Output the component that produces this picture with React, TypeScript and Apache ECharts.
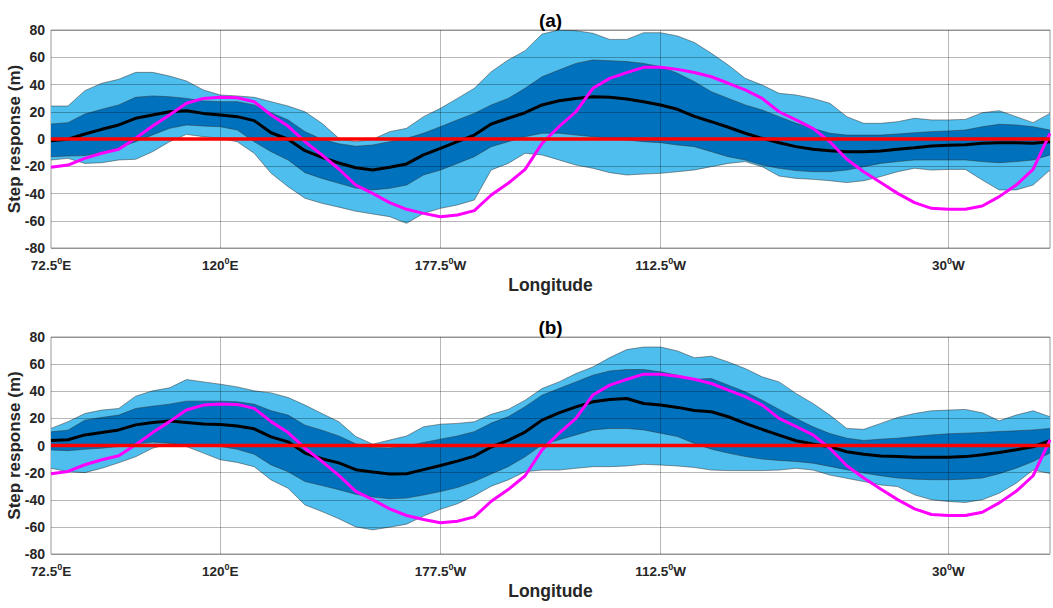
import React, { useEffect, useRef } from 'react';
import * as echarts from 'echarts';

// ---- axis definitions ----
const pointCount = 60;
const categories = Array.from({ length: pointCount }, (_, i) => String(i));
const tickIndices = [0, 10, 23, 36, 53];
const tickDegrees = ['72.5', '120', '177.5', '112.5', '30'];
const tickHemispheres = ['E', 'E', 'W', 'W', 'W'];
const yTicks = { min: -80, max: 80, interval: 20 };
const referenceLevel = 0;

// ---- panel (a) ----
const outerUpperA = [24.2, 24.2, 35.5, 40.9, 43.8, 48.9, 48.9, 46.2, 42.6, 36, 32.3, 31.6, 30.6, 27.4, 24.2, 20, 11.5, 0.5, -2, -0.2, 5.4, 7.8, 16.4, 22.5, 29.8, 37.2, 49.4, 58, 64.8, 77, 80, 79.5, 77.6, 73.1, 73.1, 78, 78, 75.6, 70.8, 62.9, 54.3, 44.5, 39.6, 33.5, 32.3, 29.8, 26.2, 16.4, 11.5, 11.5, 12.7, 15.2, 14, 14, 14.4, 19.3, 20.8, 16.4, 12, 18.8];
const outerLowerA = [-15.4, -14.2, -17.9, -17.4, -15.4, -14.9, -9.3, -2, 3.4, 1.7, 0.5, -2, -10.5, -25.2, -35, -43.5, -47.2, -50, -53, -55, -57, -61.9, -54.6, -50.9, -48.4, -44.8, -22.7, -17.9, -10.5, -11.7, -15.4, -19.1, -21.5, -24.7, -26.4, -25.7, -25.2, -24, -22.7, -20.3, -17.9, -16.6, -20.3, -27.2, -28.9, -29.6, -30.6, -32, -30.6, -27.6, -24, -21.5, -22.8, -22.3, -22.3, -30.1, -37.4, -37.4, -33.8, -22.8];
const innerUpperA = [11, 12, 18.3, 21.8, 25, 30.6, 31.6, 31, 29.8, 27.9, 27.4, 27.4, 25, 19.3, 14, 5.4, -0.2, -3.5, -5.3, -4.4, -2, 0.5, 4.2, 9, 14, 18.8, 25, 29.8, 37.2, 45.7, 50.6, 55.5, 58, 57.5, 56.8, 55.5, 53.1, 48.2, 42.1, 34.7, 29.8, 25, 21.3, 16.4, 11.5, 7.8, 4.2, 2.9, 2.9, 2.9, 3.7, 4.6, 5.4, 5.9, 6.6, 9, 10.8, 10.3, 9, 6.6];
const innerLowerA = [-13, -12.5, -12.2, -10, -6.4, -2, 3, 7.8, 10.3, 9.5, 9, 6.6, -2, -9.3, -15.4, -24.7, -28.9, -32.5, -36, -37.4, -36.2, -33.8, -26.4, -22.8, -17.9, -13, -5.6, -2, 1.7, 4.2, 4.2, 2.9, 1.7, 0.5, -0.7, -2, -2.7, -4.4, -5.6, -9.3, -13, -15.4, -19.1, -21.5, -23.2, -24, -24, -22.8, -20.3, -17.9, -16.6, -15.4, -15.4, -15.4, -15.4, -16.6, -17.4, -16.6, -15.4, -11.7];
const meanA = [-1.2, -0.2, 3.7, 7.1, 10.3, 15.2, 17.6, 20, 20.8, 18.8, 17.6, 16.4, 13.5, 4.6, -0.2, -8.6, -13.5, -17.6, -21.1, -22.8, -20.8, -18.3, -11.7, -6.9, -2, 2.9, 11, 15.2, 19.3, 25, 28.1, 29.8, 31, 30.6, 29.4, 27.4, 25, 21.8, 16.6, 12.7, 8.6, 4.2, 0.5, -2.7, -5.6, -7.6, -8.6, -9.3, -9.3, -8.8, -7.6, -6.4, -5.1, -4.6, -4.2, -3.2, -2.7, -2.7, -3.2, -2];

// ---- observed (magenta), same in both panels ----
const observed = [-20.8, -19.1, -14.2, -10.5, -7.6, 0.5, 9.5, 17.6, 26.2, 29.8, 30.6, 30.3, 27.4, 17.6, 9.5, -2, -11.7, -22, -33.8, -39.9, -46.7, -51.6, -54.6, -57, -55.8, -52.6, -41.1, -32.5, -22.3, -3.2, 9, 20, 37.2, 44.5, 48.7, 52.6, 52.6, 51.1, 48.8, 45.7, 40.9, 36, 29.8, 20, 14, 7.8, -2, -14.9, -24, -32, -39.9, -46.7, -50.9, -51.6, -51.6, -49.2, -42.3, -33.8, -22.3, 4.2];

// ---- panel (b) ----
const outerUpperB = [12.6, 17.5, 23.6, 26.1, 27.3, 36.4, 40.3, 42.5, 48.6, 46.9, 45.2, 43.2, 40.3, 38.8, 35.4, 29.8, 23.6, 17.5, 6.6, 1, 4, 7, 13.8, 15.7, 16.3, 17.5, 23, 26.6, 33.4, 42, 46.9, 53, 57.9, 64.8, 70.7, 72.6, 72.6, 69.7, 64.7, 65.8, 61.6, 56.7, 50.6, 46.9, 38.4, 31, 22.4, 12.6, 11.9, 16.3, 20.7, 23.6, 25.6, 26.1, 26.6, 24.1, 18.2, 22.4, 25.6, 21.2];
const outerLowerB = [-16.8, -19.3, -20, -16.8, -12.7, -8.3, -2, 1.2, -0.8, -5.6, -10.5, -12.5, -15.6, -25.4, -31.5, -43.8, -48.7, -54, -60, -62.2, -60.2, -58, -52, -47, -43, -37, -30, -25.4, -19.3, -18.1, -18.1, -16.8, -15.6, -15.6, -15.1, -13.9, -14.4, -15.1, -16.2, -18.1, -18.5, -18.5, -18.5, -18.1, -16.8, -18.1, -21.8, -24.2, -26.6, -29.1, -30.3, -36.4, -40, -41.3, -42, -40, -35.2, -27.8, -18.1, -20.6];
const innerUpperB = [10.1, 11.3, 18.7, 20.7, 22.4, 27.3, 29, 30.5, 32.7, 32.7, 32.7, 32.2, 30.5, 25.6, 22.4, 15, 11.3, 7, 1.2, -1.5, -1.8, -0.3, 2.2, 4.7, 7, 10.2, 16.5, 21.2, 28.6, 37.1, 42, 46.9, 51.8, 55, 56, 56, 54.3, 51.8, 48.8, 49.4, 44.5, 39.6, 33.4, 26.6, 20, 13.8, 8.8, 5.4, 3.7, 4.7, 5.4, 6.6, 7.8, 8.6, 9.1, 9.6, 10.3, 10.8, 11.5, 12.6];
const innerLowerB = [-3.3, -3.8, -2.8, -2, -0.7, 1.2, 2.5, 1.7, -0.2, -0.7, -0.7, -2.8, -6.4, -14.3, -19.3, -26.6, -29.5, -32.6, -36, -38, -39.2, -38.8, -36.5, -34, -31, -26.6, -21, -15.6, -8.3, 0.5, 4.2, 7.8, 11.5, 12.6, 12.6, 11.5, 9.1, 6.6, 1.5, -2.7, -5.6, -8.1, -10, -11, -11.8, -13, -15.4, -17.9, -20.3, -22.3, -24, -24.8, -25.2, -25.2, -24.8, -24, -20.8, -16.7, -11.8, -5.6];
const meanB = [3.7, 4.2, 7.8, 9.6, 11.5, 15.2, 16.9, 18, 17, 15.8, 15.5, 14.3, 12.3, 6.4, 2.7, -5.6, -9.8, -12.8, -17.8, -19.6, -21, -20.8, -17.8, -14.8, -11.5, -7.8, -1.1, 3.8, 9.9, 18.7, 24.1, 28.5, 32.2, 33.9, 34.7, 31, 29.8, 28.1, 25.8, 24.9, 21.2, 16.3, 11.9, 7.7, 3.5, 1.1, -0.9, -4.6, -6.5, -7.8, -8.2, -8.7, -8.7, -8.7, -8.2, -6.9, -5.1, -3.2, -0.9, 3.5];

const panelTitles = ['(a)', '(b)'];

const FONT = '"Liberation Sans", Arial, Helvetica, sans-serif';
const LIGHT = '#4DBEEE';
const DARK = '#0072BD';
const EDGE = '#333333';
const GRIDLINE = 'rgba(0,0,0,0.28)';
const TEXT = '#262626';

const grids = [
  { left: 51, top: 30, width: 999, height: 218 },
  { left: 51, top: 337, width: 999, height: 217 },
];

function buildSeries(p: number, oU: number[], oL: number[], iU: number[], iL: number[], mean: number[]) {
  const common = { type: 'line', xAxisIndex: p, yAxisIndex: p, symbol: 'none', silent: true, animation: false };
  const edge = { color: EDGE, width: 0.5 };
  return [
    { ...common, name: `outerLow${p}`, stack: `outer${p}`, stackStrategy: 'all', data: oL, lineStyle: edge, z: 1 },
    { ...common, name: `outerBand${p}`, stack: `outer${p}`, stackStrategy: 'all', data: oU.map((v, i) => v - oL[i]), lineStyle: edge, areaStyle: { color: LIGHT, opacity: 1 }, z: 1 },
    { ...common, name: `innerLow${p}`, stack: `inner${p}`, stackStrategy: 'all', data: iL, lineStyle: edge, z: 1 },
    { ...common, name: `innerBand${p}`, stack: `inner${p}`, stackStrategy: 'all', data: iU.map((v, i) => v - iL[i]), lineStyle: edge, areaStyle: { color: DARK, opacity: 1 }, z: 1 },
    { ...common, name: `mean${p}`, data: mean, lineStyle: { color: '#000000', width: 3 }, z: 3 },
    { ...common, name: `observed${p}`, data: observed, lineStyle: { color: '#FF00FF', width: 3 }, z: 3 },
    { ...common, name: `zero${p}`, data: [[0, referenceLevel], [pointCount - 1, referenceLevel]], lineStyle: { color: '#FF0000', width: 3.5 }, z: 3 },
  ];
}

export default function App() {
  const ref = useRef<HTMLDivElement>(null);
  useEffect(() => {
    if (!ref.current) return;
    const chart = echarts.init(ref.current, undefined, { renderer: 'svg' });
    const isTick = (i: number) => tickIndices.indexOf(i) >= 0;
    const xAxes = grids.map((_, p) => ({
      type: 'category',
      gridIndex: p,
      data: categories,
      boundaryGap: false,
      z: 2,
      axisLine: { show: false },
      axisTick: { show: false },
      axisLabel: {
        interval: (i: number) => isTick(i),
        margin: 8,
        formatter: (_v: string, i: number) => {
          const k = tickIndices.indexOf(i);
          if (k < 0) return '';
          return `{b|${tickDegrees[k]}}{s|0}{b|${tickHemispheres[k]}}`;
        },
        rich: {
          b: { fontSize: 13.5, fontWeight: 'bold', color: TEXT, fontFamily: FONT, verticalAlign: 'bottom', lineHeight: 16 },
          s: { fontSize: 9, fontWeight: 'bold', color: TEXT, fontFamily: FONT, verticalAlign: 'top', lineHeight: 16 },
        },
      },
      splitLine: { show: true, interval: (i: number) => isTick(i) && i > 0, lineStyle: { color: GRIDLINE, width: 1 } },
      name: 'Longitude',
      nameLocation: 'middle',
      nameGap: 28,
      nameMoveOverlap: false,
      nameTextStyle: { fontSize: 17.5, fontWeight: 'bold', color: TEXT, fontFamily: FONT },
    }));
    const yAxes = grids.map((_, p) => ({
      type: 'value',
      gridIndex: p,
      min: yTicks.min,
      max: yTicks.max,
      interval: yTicks.interval,
      z: 2,
      axisLine: { show: false },
      axisTick: { show: false },
      axisLabel: { fontSize: 14, fontWeight: 'bold', color: TEXT, fontFamily: FONT, margin: 6 },
      splitLine: { show: true, lineStyle: { color: GRIDLINE, width: 1 } },
      name: 'Step response (m)',
      nameLocation: 'middle',
      nameGap: 28,
      nameMoveOverlap: false,
      nameRotate: 90,
      nameTextStyle: { fontSize: 17, fontWeight: 'bold', color: TEXT, fontFamily: FONT },
    }));
    chart.setOption({
      animation: false,
      backgroundColor: '#ffffff',
      grid: grids.map((g) => ({
        ...g,
        containLabel: false,
        outerBoundsMode: 'none',
        show: true,
        borderColor: '#9a9a9a',
        borderWidth: 1,
        backgroundColor: 'transparent',
      })),
      xAxis: xAxes,
      yAxis: yAxes,
      graphic: grids.map((g, p) => ({
        type: 'text',
        x: g.left + g.width / 2,
        y: g.top - 10,
        style: { text: panelTitles[p], fontSize: 19, fontWeight: 'bold', fontFamily: FONT, fill: '#000000', align: 'center', verticalAlign: 'middle' },
      })),
      series: [
        ...buildSeries(0, outerUpperA, outerLowerA, innerUpperA, innerLowerA, meanA),
        ...buildSeries(1, outerUpperB, outerLowerB, innerUpperB, innerLowerB, meanB),
      ],
    });
    return () => chart.dispose();
  }, []);
  return <div ref={ref} style={{ position: 'fixed', left: 0, top: 0, width: 1053, height: 608 }} />;
}
